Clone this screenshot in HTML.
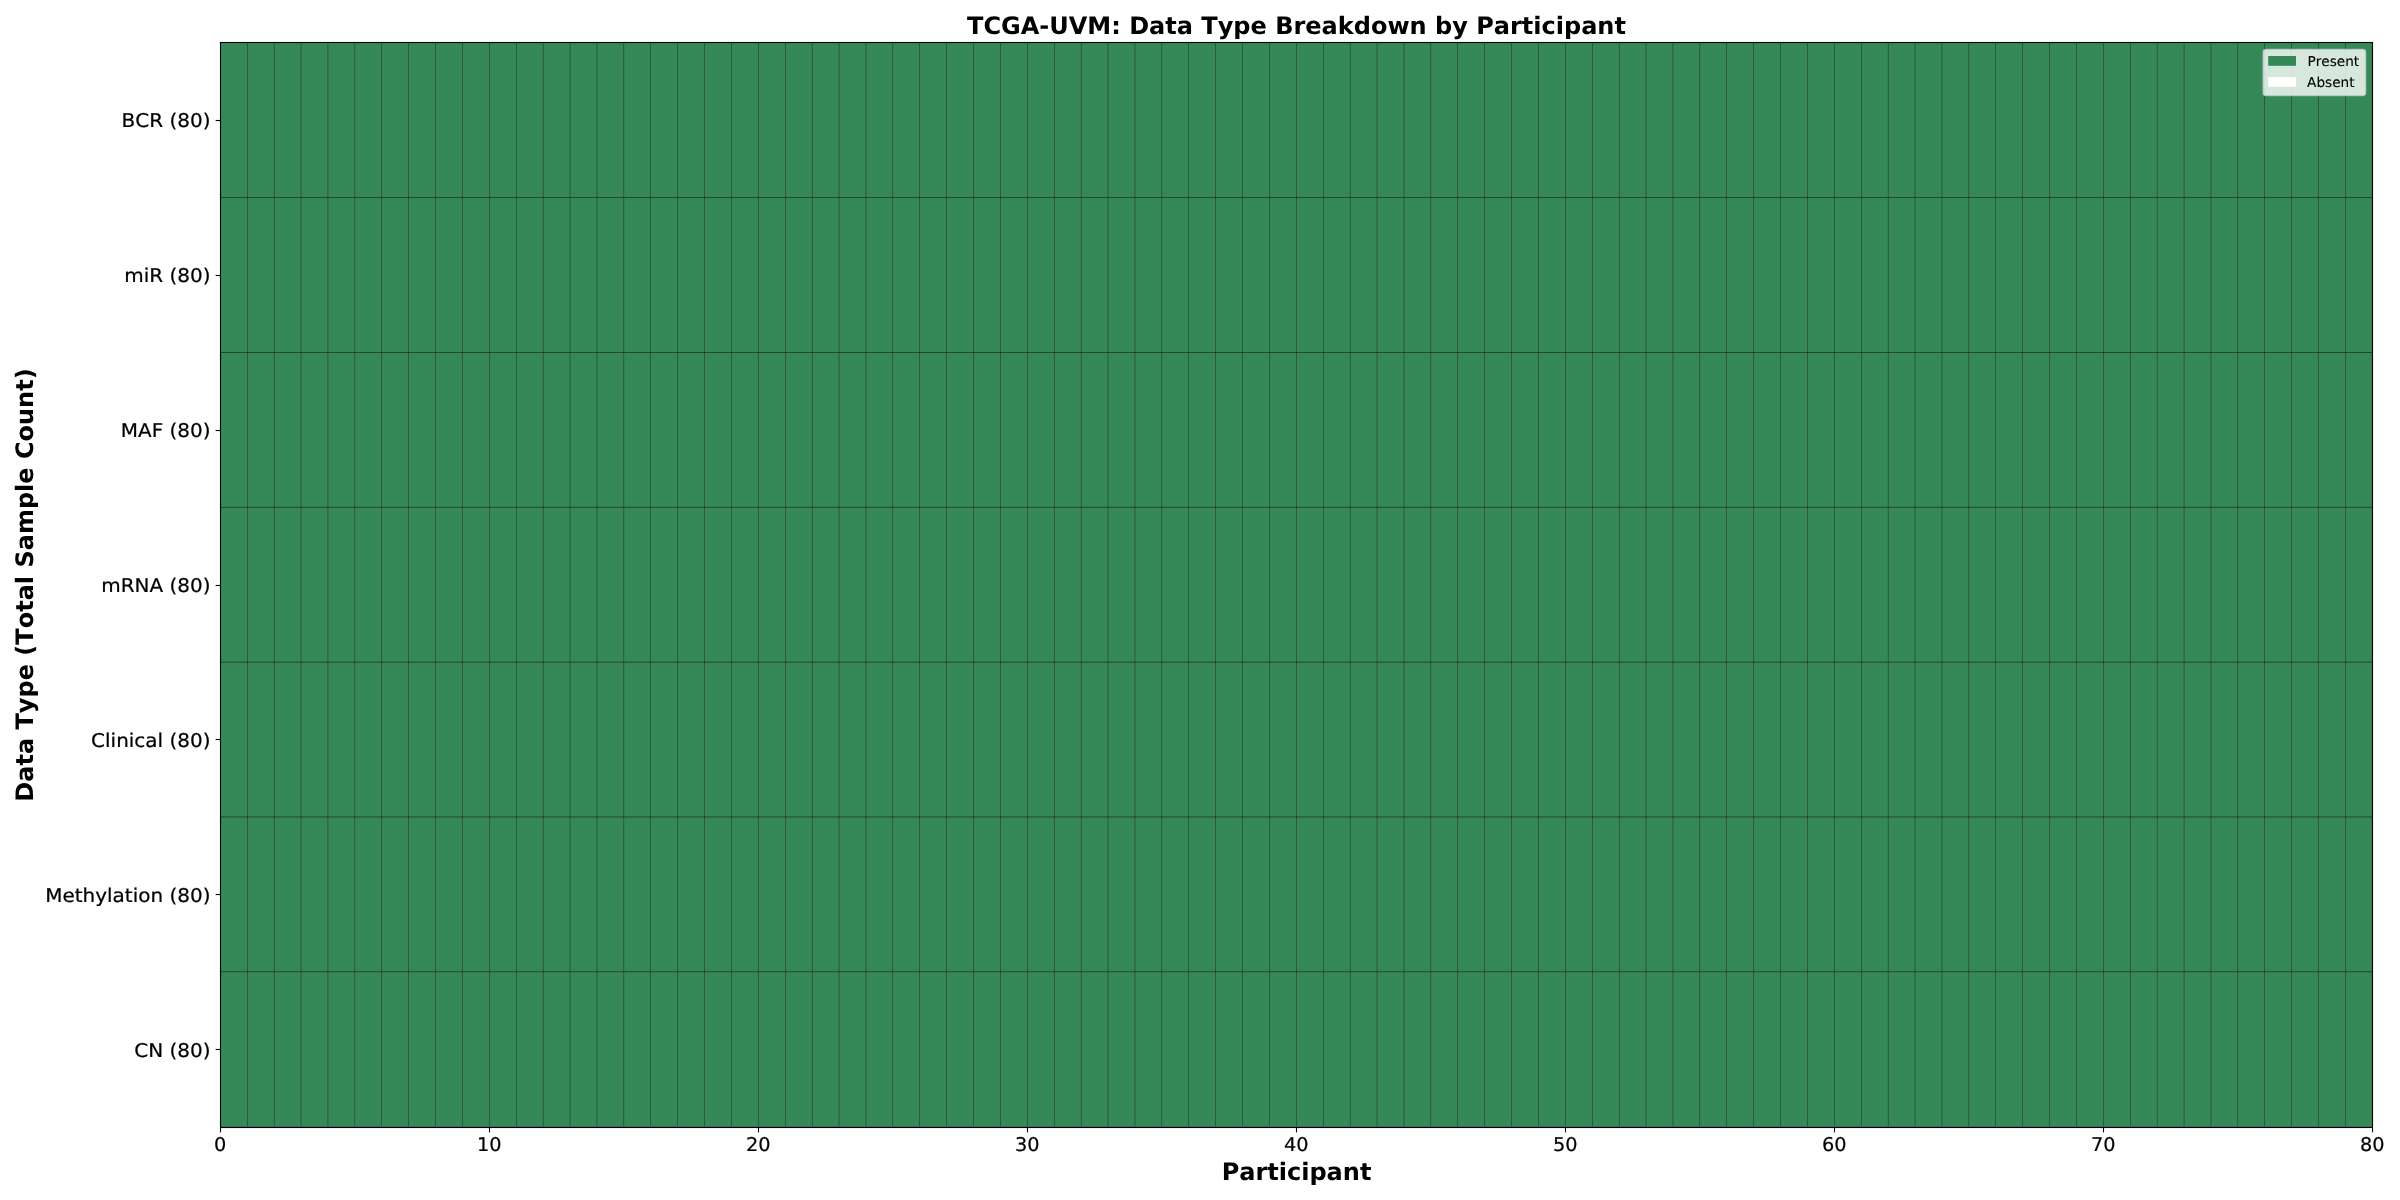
<!DOCTYPE html>
<html lang="en"><head><meta charset="utf-8"><title>TCGA-UVM: Data Type Breakdown by Participant</title>
<style>html,body{margin:0;padding:0;background:#fff;width:2400px;height:1200px;overflow:hidden}svg{display:block;will-change:transform}text{font-family:"DejaVu Sans","Liberation Sans",sans-serif;fill:#000;font-kerning:none;font-variant-ligatures:none;text-rendering:geometricPrecision}</style></head><body>
<svg width="2400" height="1200" viewBox="0 0 2400 1200">
<rect width="2400" height="1200" fill="#fff"/>
<rect x="220.5" y="42.5" width="2152.0" height="1085.0" fill="#348957"/>
<rect x="220.5" y="1126" width="2152.0" height="1" fill="#46735a"/>
<g fill="#202020">
<rect x="247.030" y="42.5" width="0.44" height="1085.0"/>
<rect x="273.930" y="42.5" width="0.44" height="1085.0"/>
<rect x="300.830" y="42.5" width="0.44" height="1085.0"/>
<rect x="327.730" y="42.5" width="0.44" height="1085.0"/>
<rect x="354.630" y="42.5" width="0.44" height="1085.0"/>
<rect x="381.530" y="42.5" width="0.44" height="1085.0"/>
<rect x="408.430" y="42.5" width="0.44" height="1085.0"/>
<rect x="435.330" y="42.5" width="0.44" height="1085.0"/>
<rect x="462.230" y="42.5" width="0.44" height="1085.0"/>
<rect x="489.130" y="42.5" width="0.44" height="1085.0"/>
<rect x="516.030" y="42.5" width="0.44" height="1085.0"/>
<rect x="542.930" y="42.5" width="0.44" height="1085.0"/>
<rect x="569.830" y="42.5" width="0.44" height="1085.0"/>
<rect x="596.730" y="42.5" width="0.44" height="1085.0"/>
<rect x="623.630" y="42.5" width="0.44" height="1085.0"/>
<rect x="650.530" y="42.5" width="0.44" height="1085.0"/>
<rect x="677.430" y="42.5" width="0.44" height="1085.0"/>
<rect x="704.330" y="42.5" width="0.44" height="1085.0"/>
<rect x="731.230" y="42.5" width="0.44" height="1085.0"/>
<rect x="758.130" y="42.5" width="0.44" height="1085.0"/>
<rect x="785.030" y="42.5" width="0.44" height="1085.0"/>
<rect x="811.930" y="42.5" width="0.44" height="1085.0"/>
<rect x="838.830" y="42.5" width="0.44" height="1085.0"/>
<rect x="865.730" y="42.5" width="0.44" height="1085.0"/>
<rect x="892.630" y="42.5" width="0.44" height="1085.0"/>
<rect x="919.530" y="42.5" width="0.44" height="1085.0"/>
<rect x="946.430" y="42.5" width="0.44" height="1085.0"/>
<rect x="973.330" y="42.5" width="0.44" height="1085.0"/>
<rect x="1000.230" y="42.5" width="0.44" height="1085.0"/>
<rect x="1027.130" y="42.5" width="0.44" height="1085.0"/>
<rect x="1054.030" y="42.5" width="0.44" height="1085.0"/>
<rect x="1080.930" y="42.5" width="0.44" height="1085.0"/>
<rect x="1107.830" y="42.5" width="0.44" height="1085.0"/>
<rect x="1134.730" y="42.5" width="0.44" height="1085.0"/>
<rect x="1161.630" y="42.5" width="0.44" height="1085.0"/>
<rect x="1188.530" y="42.5" width="0.44" height="1085.0"/>
<rect x="1215.430" y="42.5" width="0.44" height="1085.0"/>
<rect x="1242.330" y="42.5" width="0.44" height="1085.0"/>
<rect x="1269.230" y="42.5" width="0.44" height="1085.0"/>
<rect x="1296.130" y="42.5" width="0.44" height="1085.0"/>
<rect x="1323.030" y="42.5" width="0.44" height="1085.0"/>
<rect x="1349.930" y="42.5" width="0.44" height="1085.0"/>
<rect x="1376.830" y="42.5" width="0.44" height="1085.0"/>
<rect x="1403.730" y="42.5" width="0.44" height="1085.0"/>
<rect x="1430.630" y="42.5" width="0.44" height="1085.0"/>
<rect x="1457.530" y="42.5" width="0.44" height="1085.0"/>
<rect x="1484.430" y="42.5" width="0.44" height="1085.0"/>
<rect x="1511.330" y="42.5" width="0.44" height="1085.0"/>
<rect x="1538.230" y="42.5" width="0.44" height="1085.0"/>
<rect x="1565.130" y="42.5" width="0.44" height="1085.0"/>
<rect x="1592.030" y="42.5" width="0.44" height="1085.0"/>
<rect x="1618.930" y="42.5" width="0.44" height="1085.0"/>
<rect x="1645.830" y="42.5" width="0.44" height="1085.0"/>
<rect x="1672.730" y="42.5" width="0.44" height="1085.0"/>
<rect x="1699.630" y="42.5" width="0.44" height="1085.0"/>
<rect x="1726.530" y="42.5" width="0.44" height="1085.0"/>
<rect x="1753.430" y="42.5" width="0.44" height="1085.0"/>
<rect x="1780.330" y="42.5" width="0.44" height="1085.0"/>
<rect x="1807.230" y="42.5" width="0.44" height="1085.0"/>
<rect x="1834.130" y="42.5" width="0.44" height="1085.0"/>
<rect x="1861.030" y="42.5" width="0.44" height="1085.0"/>
<rect x="1887.930" y="42.5" width="0.44" height="1085.0"/>
<rect x="1914.830" y="42.5" width="0.44" height="1085.0"/>
<rect x="1941.730" y="42.5" width="0.44" height="1085.0"/>
<rect x="1968.630" y="42.5" width="0.44" height="1085.0"/>
<rect x="1995.530" y="42.5" width="0.44" height="1085.0"/>
<rect x="2022.430" y="42.5" width="0.44" height="1085.0"/>
<rect x="2049.330" y="42.5" width="0.44" height="1085.0"/>
<rect x="2076.230" y="42.5" width="0.44" height="1085.0"/>
<rect x="2103.130" y="42.5" width="0.44" height="1085.0"/>
<rect x="2130.030" y="42.5" width="0.44" height="1085.0"/>
<rect x="2156.930" y="42.5" width="0.44" height="1085.0"/>
<rect x="2183.830" y="42.5" width="0.44" height="1085.0"/>
<rect x="2210.730" y="42.5" width="0.44" height="1085.0"/>
<rect x="2237.630" y="42.5" width="0.44" height="1085.0"/>
<rect x="2264.530" y="42.5" width="0.44" height="1085.0"/>
<rect x="2291.430" y="42.5" width="0.44" height="1085.0"/>
<rect x="2318.330" y="42.5" width="0.44" height="1085.0"/>
<rect x="2345.230" y="42.5" width="0.44" height="1085.0"/>
<rect x="220.5" y="197.165" width="2152.0" height="0.62"/>
<rect x="220.5" y="352.035" width="2152.0" height="0.62"/>
<rect x="220.5" y="506.905" width="2152.0" height="0.62"/>
<rect x="220.5" y="661.775" width="2152.0" height="0.62"/>
<rect x="220.5" y="816.645" width="2152.0" height="0.62"/>
<rect x="220.5" y="971.515" width="2152.0" height="0.62"/>
</g>
<rect x="220.5" y="42.5" width="2152.0" height="1085.0" fill="none" stroke="#000" stroke-width="1.11"/>
<g stroke="#000" stroke-width="1.11">
<line x1="220.50" y1="1127.5" x2="220.50" y2="1132.36"/>
<line x1="489.50" y1="1127.5" x2="489.50" y2="1132.36"/>
<line x1="758.50" y1="1127.5" x2="758.50" y2="1132.36"/>
<line x1="1027.50" y1="1127.5" x2="1027.50" y2="1132.36"/>
<line x1="1296.50" y1="1127.5" x2="1296.50" y2="1132.36"/>
<line x1="1565.50" y1="1127.5" x2="1565.50" y2="1132.36"/>
<line x1="1834.50" y1="1127.5" x2="1834.50" y2="1132.36"/>
<line x1="2103.50" y1="1127.5" x2="2103.50" y2="1132.36"/>
<line x1="2372.50" y1="1127.5" x2="2372.50" y2="1132.36"/>
<line x1="215.64" y1="120.50" x2="220.5" y2="120.50"/>
<line x1="215.64" y1="275.50" x2="220.5" y2="275.50"/>
<line x1="215.64" y1="430.50" x2="220.5" y2="430.50"/>
<line x1="215.64" y1="585.50" x2="220.5" y2="585.50"/>
<line x1="215.64" y1="739.50" x2="220.5" y2="739.50"/>
<line x1="215.64" y1="894.50" x2="220.5" y2="894.50"/>
<line x1="215.64" y1="1049.50" x2="220.5" y2="1049.50"/>
</g>
<g font-size="18.95px" text-anchor="middle" stroke="#000" stroke-width="0.22" stroke-linejoin="round">
<text transform="translate(220.20,1150.8) scale(1.02,1)">0</text>
<text transform="translate(489.20,1150.8) scale(1.02,1)">10</text>
<text transform="translate(758.20,1150.8) scale(1.02,1)">20</text>
<text transform="translate(1027.20,1150.8) scale(1.02,1)">30</text>
<text transform="translate(1296.20,1150.8) scale(1.02,1)">40</text>
<text transform="translate(1565.20,1150.8) scale(1.02,1)">50</text>
<text transform="translate(1834.20,1150.8) scale(1.02,1)">60</text>
<text transform="translate(2103.20,1150.8) scale(1.02,1)">70</text>
<text transform="translate(2372.20,1150.8) scale(1.02,1)">80</text>
</g>
<g font-size="18.95px" text-anchor="end" stroke="#000" stroke-width="0.22" stroke-linejoin="round">
<text transform="translate(210.5,127.35) scale(1.055,1)">BCR (80)</text>
<text transform="translate(210.5,282.35) scale(1.055,1)">miR (80)</text>
<text transform="translate(210.5,437.35) scale(1.055,1)">MAF (80)</text>
<text transform="translate(210.5,592.35) scale(1.055,1)">mRNA (80)</text>
<text transform="translate(210.5,747.35) scale(1.055,1)">Clinical (80)</text>
<text transform="translate(210.5,902.35) scale(1.055,1)">Methylation (80)</text>
<text transform="translate(210.5,1057.35) scale(1.055,1)">CN (80)</text>
</g>
<text x="1296.5" y="33.5" font-size="24px" font-weight="bold" text-anchor="middle">TCGA-UVM: Data Type Breakdown by Participant</text>
<text x="1296.5" y="1180" font-size="24px" font-weight="bold" text-anchor="middle">Participant</text>
<text transform="translate(32.6,585.0) rotate(-90)" font-size="24px" font-weight="bold" text-anchor="middle">Data Type (Total Sample Count)</text>
<rect x="2263.2" y="49.4" width="102.4" height="46.2" rx="2.8" ry="2.8" fill="#fff" fill-opacity="0.8" stroke="#ccc" stroke-opacity="0.8" stroke-width="1.39"/>
<rect x="2268.2" y="56" width="27.8" height="9.8" fill="#348957"/>
<rect x="2268.2" y="77" width="27.8" height="9.8" fill="#fff"/>
<g font-size="13.65px" stroke="#000" stroke-width="0.12" stroke-linejoin="round"><text x="2307.45" y="65.8">Present</text><text x="2307.1" y="86.9">Absent</text></g>
</svg></body></html>
